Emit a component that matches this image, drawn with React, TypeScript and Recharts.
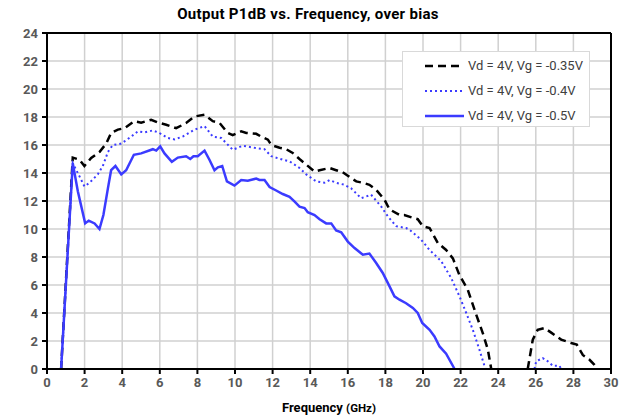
import React from "react";
import { LineChart, Line, XAxis, YAxis, CartesianGrid, ReferenceLine } from "recharts";

// Vd = 4V, Vg = -0.35V (dashed black)
const vg035Freq = [0.75, 1.37, 1.73, 1.99, 2.35, 2.79, 3.15, 3.41, 3.77, 4.12, 4.65, 5.01, 5.54, 5.9, 6.34, 6.87, 7.4, 7.85, 8.38, 8.82, 9.18, 9.62, 9.88, 10.33, 10.6, 11.13, 11.39, 11.75, 11.93, 12.37, 12.72, 13.07, 13.43, 13.79, 14.23, 14.5, 15.03, 15.38, 15.73, 16.0, 16.45, 16.8, 17.15, 17.51, 17.95, 18.22, 18.75, 19.0, 19.46, 19.72, 19.99, 20.35, 20.79, 21.23, 21.59, 21.94, 22.38, 22.83, 23.18, 23.45, 23.63, 24.6, 25.57, 25.84, 26.1, 26.46, 26.82, 27.35, 27.88, 28.18, 28.5, 28.86, 29.12, 29.3];
const vg035P1dB = [0, 15.1, 14.95, 14.5, 15.07, 15.5, 16.1, 16.86, 17.1, 17.2, 17.7, 17.6, 17.8, 17.6, 17.45, 17.2, 17.57, 18.04, 18.16, 17.7, 17.57, 16.86, 16.7, 16.97, 16.86, 16.8, 16.6, 16.38, 16.0, 15.8, 15.7, 15.43, 15.0, 14.6, 14.1, 14.2, 14.36, 14.2, 14.05, 13.8, 13.4, 13.3, 13.16, 12.8, 12.1, 11.4, 11.0, 11.0, 10.8, 10.7, 10.2, 10.07, 9.0, 8.5, 7.9, 6.7, 5.67, 3.88, 2.57, 1.38, 0, null, 0, 2.1, 2.8, 2.93, 2.6, 2.1, 1.86, 1.74, 1.0, 0.66, 0.3, 0];

// Vd = 4V, Vg = -0.4V (dotted blue)
const vg04Freq = [0.75, 1.37, 1.73, 1.99, 2.26, 2.7, 2.97, 3.24, 3.5, 3.95, 4.12, 4.48, 4.83, 5.19, 5.63, 5.98, 6.43, 6.78, 7.22, 7.85, 8.38, 8.82, 9.27, 9.88, 10.41, 11.04, 11.57, 11.93, 12.54, 12.9, 13.43, 13.79, 14.32, 14.76, 15.03, 15.38, 15.82, 16.18, 16.71, 17.24, 17.78, 18.13, 18.57, 19.1, 19.28, 19.9, 20.35, 20.97, 21.5, 21.94, 22.3, 22.65, 23.0, 23.32, 24.6, 25.93, 26.02, 26.37, 26.64, 26.9, 27.26, 27.35];
const vg04P1dB = [0, 14.7, 13.76, 13.04, 13.3, 13.9, 14.5, 15.5, 16.0, 16.1, 16.26, 16.6, 16.97, 16.9, 17.04, 16.86, 16.5, 16.4, 16.6, 17.1, 17.35, 16.6, 16.5, 15.66, 15.95, 15.8, 15.7, 15.2, 14.95, 14.83, 14.36, 13.9, 13.4, 13.3, 13.5, 13.3, 13.16, 12.9, 12.2, 12.45, 11.6, 10.9, 10.2, 10.07, 9.95, 9.24, 8.5, 7.7, 6.5, 5.19, 4.0, 2.8, 1.38, 0, null, 0, 0.55, 0.78, 0.55, 0.23, 0.23, 0];

// Vd = 4V, Vg = -0.5V (solid blue)
const vg05Freq = [0.75, 1.37, 1.64, 2.03, 2.22, 2.53, 2.79, 3.0, 3.24, 3.41, 3.64, 3.95, 4.21, 4.62, 5.01, 5.63, 5.81, 6.02, 6.25, 6.64, 6.96, 7.4, 7.62, 7.79, 8.02, 8.38, 8.64, 8.91, 9.09, 9.32, 9.57, 9.97, 10.33, 10.68, 11.13, 11.3, 11.57, 11.84, 12.19, 12.54, 12.9, 13.16, 13.43, 13.7, 13.87, 14.23, 14.5, 14.85, 15.12, 15.38, 15.65, 16.0, 16.36, 16.8, 17.15, 17.51, 17.86, 18.22, 18.48, 18.75, 19.1, 19.46, 19.72, 19.96, 20.35, 20.61, 20.88, 21.23, 21.68];
const vg05P1dB = [0, 14.7, 12.7, 10.4, 10.6, 10.4, 10.0, 11.0, 12.9, 14.2, 14.5, 13.9, 14.2, 15.3, 15.4, 15.7, 15.6, 15.9, 15.4, 14.8, 15.1, 15.2, 15.0, 15.2, 15.2, 15.6, 14.95, 14.2, 14.4, 14.5, 13.4, 13.1, 13.5, 13.45, 13.6, 13.5, 13.5, 13.0, 12.75, 12.5, 12.3, 11.97, 11.6, 11.5, 11.2, 11.0, 10.7, 10.4, 10.4, 9.9, 9.76, 9.1, 8.64, 8.16, 8.24, 7.57, 6.86, 5.9, 5.19, 4.95, 4.7, 4.36, 4.0, 3.29, 2.8, 2.33, 1.61, 1.09, 0];

const xTicks = [0, 2, 4, 6, 8, 10, 12, 14, 16, 18, 20, 22, 24, 26, 28, 30];
const yTicks = [0, 2, 4, 6, 8, 10, 12, 14, 16, 18, 20, 22, 24];

const toPoints = (freq: number[], vals: (number | null)[]) =>
  freq.map((f, i) => ({ f, v: vals[i] }));

const series = [
  { name: "Vd = 4V, Vg = -0.35V", data: toPoints(vg035Freq, vg035P1dB), color: "#000000", dash: "8 5", width: 2.5 },
  { name: "Vd = 4V, Vg = -0.4V", data: toPoints(vg04Freq, vg04P1dB), color: "#3b3bff", dash: "2 3", width: 2 },
  { name: "Vd = 4V, Vg = -0.5V", data: toPoints(vg05Freq, vg05P1dB), color: "#3b3bff", dash: undefined, width: 2.5 },
];

const font = "Roboto, 'Noto Sans', sans-serif";
const tickStyle = { fill: "#595959", fontSize: 13, fontWeight: 700, fontFamily: font };

function LegendBox() {
  return (
    <div
      style={{
        position: "absolute",
        left: 402,
        top: 51,
        width: 188,
        height: 76,
        background: "#fff",
        border: "1px solid #d9d9d9",
        boxSizing: "border-box",
        paddingTop: 1,
      }}
    >
      {series.map((s) => (
        <div key={s.name} style={{ display: "flex", alignItems: "center", height: 25 }}>
          <svg width={63} height={10}>
            <line x1={22} y1={5} x2={61} y2={5} stroke={s.color} strokeWidth={s.width} strokeDasharray={s.dash} />
          </svg>
          <span style={{ fontFamily: font, fontSize: 13, color: "#404040", marginLeft: 2 }}>{s.name}</span>
        </div>
      ))}
    </div>
  );
}

export default function App() {
  return (
    <div style={{ position: "absolute", left: 0, top: 0, width: 631, height: 419, background: "#fff" }}>
      <div
        style={{
          position: "absolute",
          left: 0,
          width: 631,
          top: 5,
          textAlign: "center",
          fontFamily: font,
          fontWeight: 700,
          fontSize: 15,
          letterSpacing: 0.3,
          color: "#000",
          paddingRight: 15,
          boxSizing: "border-box",
        }}
      >
        Output P1dB vs. Frequency, over bias
      </div>
      <LineChart width={631} height={419} margin={{ top: 33, right: 20, bottom: 0, left: 0 }}>
        <CartesianGrid stroke="#d0d0d0" strokeWidth={1.5} horizontalValues={yTicks} verticalValues={xTicks} />
        <XAxis
          type="number"
          dataKey="f"
          domain={[0, 30]}
          ticks={xTicks}
          interval={0}
          height={50}
          allowDuplicatedCategory={false}
          stroke="#000"
          strokeWidth={2}
          tickSize={5}
          tick={tickStyle}
          tickMargin={4}
        />
        <YAxis
          type="number"
          domain={[0, 24]}
          ticks={yTicks}
          interval={0}
          width={47}
          stroke="#000"
          strokeWidth={2}
          tickSize={5}
          tick={tickStyle}
          tickMargin={4}
        />
        <ReferenceLine y={24} stroke="#000" strokeWidth={2} />
        <ReferenceLine x={30} stroke="#000" strokeWidth={2} />
        {series.map((s) => (
          <Line
            key={s.name}
            data={s.data}
            dataKey="v"
            name={s.name}
            type="linear"
            stroke={s.color}
            strokeWidth={s.width}
            strokeDasharray={s.dash}
            dot={false}
            connectNulls={false}
            isAnimationActive={false}
          />
        ))}
      </LineChart>
      <LegendBox />
      <div
        style={{
          position: "absolute",
          left: 47,
          width: 564,
          top: 397,
          textAlign: "center",
          fontFamily: font,
          fontWeight: 700,
          color: "#000",
        }}
      >
        <span style={{ fontSize: 13 }}>Frequency </span>
        <span style={{ fontSize: 11.5 }}>(GHz)</span>
      </div>
    </div>
  );
}
